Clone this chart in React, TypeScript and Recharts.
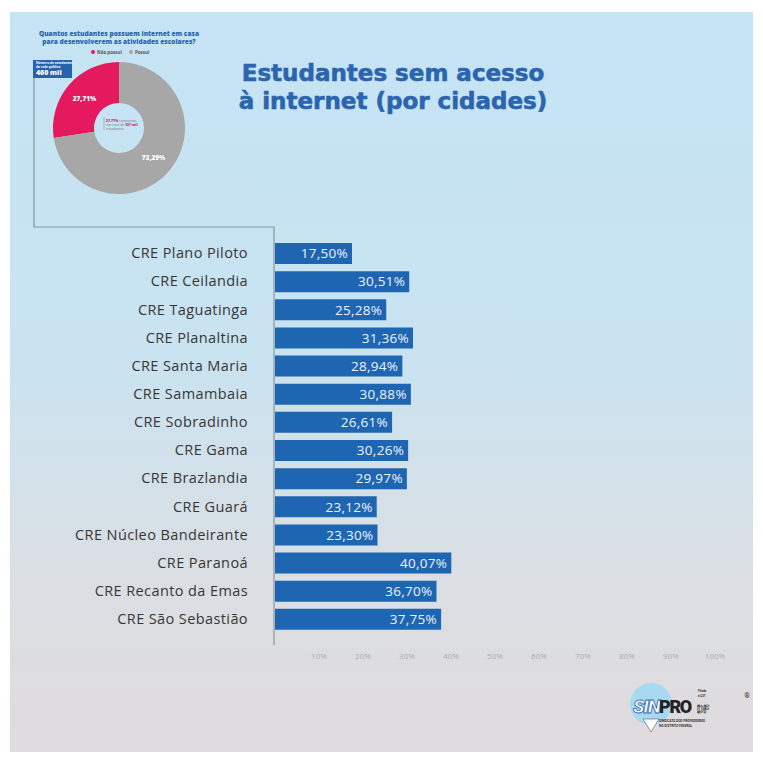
import { BarChart, Bar, XAxis, YAxis, LabelList, PieChart, Pie, Cell } from 'recharts'

const cities = [
  'CRE Plano Piloto',
  'CRE Ceilandia',
  'CRE Taguatinga',
  'CRE Planaltina',
  'CRE Santa Maria',
  'CRE Samambaia',
  'CRE Sobradinho',
  'CRE Gama',
  'CRE Brazlandia',
  'CRE Guará',
  'CRE Núcleo Bandeirante',
  'CRE Paranoá',
  'CRE Recanto da Emas',
  'CRE São Sebastião',
]
const semAcesso = [17.5, 30.51, 25.28, 31.36, 28.94, 30.88, 26.61, 30.26, 29.97, 23.12, 23.3, 40.07, 36.7, 37.75]
const xTicks = [10, 20, 30, 40, 50, 60, 70, 80, 90, 100]

const donutNames = ['Não possui', 'Possui']
const donutValues = [27.71, 73.29]
const donutColors = ['#e5195d', '#a7a7a7']

const FONT = '"Open Sans", Lato, sans-serif'
const BLUE = '#1f66b2'

const pct = (v: number) => v.toFixed(2).replace('.', ',') + '%'

const barData = cities.map((name, i) => ({ name, value: semAcesso[i] }))
const pieData = donutNames.map((name, i) => ({ name, value: donutValues[i] }))

const RAD = Math.PI / 180

function DonutLabel(props: any) {
  const { cx, cy, midAngle, innerRadius, outerRadius, value } = props
  const r = (innerRadius + outerRadius) / 2
  const x = cx + r * Math.cos(-midAngle * RAD)
  const y = cy + r * Math.sin(-midAngle * RAD)
  return (
    <text x={x} y={y} fill="#fff" fontSize={6.5} fontWeight={800} fontFamily={FONT} textAnchor="middle" dominantBaseline="central">
      {pct(value)}
    </text>
  )
}

export default function App() {
  return (
    <div style={{ position: 'absolute', left: 0, top: 0, width: 763, height: 760, background: '#fff' }}>
      <div
        style={{
          position: 'absolute',
          left: 10,
          top: 12,
          width: 743,
          height: 740,
          background: 'linear-gradient(to bottom, #c5e4f4 0%, #c9e3f1 45%, #dadfe4 75%, #e0dbde 100%)',
        }}
      />

      <div style={{ position: 'absolute', left: 0, top: 0 }}>
        <BarChart
          width={763}
          height={760}
          layout="vertical"
          data={barData}
          margin={{ top: 239, right: 48, bottom: 0, left: 0 }}
          barCategoryGap={7}
        >
          <XAxis
            type="number"
            domain={[0, 100]}
            ticks={xTicks}
            tickFormatter={(v: number) => `${v}%`}
            axisLine={false}
            tickLine={false}
            tickSize={0}
            tickMargin={20}
            height={127}
            tick={{ fontSize: 8, fill: '#a9adb1', fontFamily: FONT }}
          />
          <YAxis
            type="category"
            dataKey="name"
            width={275}
            axisLine={false}
            tickLine={false}
            tickSize={0}
            tickMargin={27}
            interval={0}
            tick={{ fontSize: 14.5, fill: '#363636', fontFamily: FONT, letterSpacing: 0.4 }}
          />
          <Bar dataKey="value" fill={BLUE} barSize={21} isAnimationActive={false}>
            <LabelList
              dataKey="value"
              position="insideRight"
              offset={4}
              formatter={(v: any) => pct(Number(v))}
              style={{ fill: '#eef3fa', fontSize: 13.5, fontFamily: FONT, letterSpacing: 0.3 }}
            />
          </Bar>
        </BarChart>
      </div>

      <div style={{ position: 'absolute', left: 49, top: 58 }}>
        <PieChart width={140} height={140} margin={{ top: 0, right: 0, bottom: 0, left: 0 }}>
          <Pie
            data={pieData}
            dataKey="value"
            cx={70}
            cy={70}
            innerRadius={25}
            outerRadius={66}
            startAngle={90}
            endAngle={450}
            stroke="none"
            labelLine={false}
            label={DonutLabel}
            isAnimationActive={false}
          >
            {pieData.map((_, i) => (
              <Cell key={`slice-${i}`} fill={donutColors[i]} />
            ))}
          </Pie>
        </PieChart>
      </div>

      <svg width={763} height={760} style={{ position: 'absolute', left: 0, top: 0, pointerEvents: 'none' }}>
        {/* connector from the box down to the bar axis */}
        <path d="M34,78 V227 H274 V645" fill="none" stroke="#8c949c" strokeWidth={1.2} />

        {/* donut heading + legend */}
        <g fontFamily={FONT} fontWeight={800} fill="#2b65b0" fontSize={6.6} textAnchor="middle">
          <text x={119} y={36}>Quantos estudantes possuem internet em casa</text>
          <text x={119} y={44}>para desenvolverem as atividades escolares?</text>
        </g>
        <g fontFamily={FONT} fontWeight={700} fontSize={4.5} fill="#555">
          <circle cx={93} cy={52} r={2} fill={donutColors[0]} />
          <text x={97} y={53.6}>{donutNames[0]}</text>
          <circle cx={131} cy={52} r={2} fill={donutColors[1]} />
          <text x={135} y={53.6}>{donutNames[1]}</text>
        </g>

        {/* box */}
        <rect x={33} y={60} width={39} height={18} fill="#2563ad" />
        <g fontFamily={FONT} fill="#fff">
          <text x={36} y={64} fontSize={3.2} fontWeight={700}>Número de estudantes</text>
          <text x={36} y={67.5} fontSize={3.2} fontWeight={700}>da rede pública</text>
          <text x={36} y={75} fontSize={7} fontWeight={800}>460 mil</text>
        </g>

        {/* donut centre note */}
        <line x1={104} y1={117} x2={104} y2={130} stroke="#8c949c" strokeWidth={0.6} />
        <g fontFamily={FONT} fontSize={3.4} fill="#777">
          <text x={106} y={122}>
            <tspan fill="#d0207a" fontWeight={800}>27,71%</tspan> representa
          </text>
          <text x={106} y={126}>
            um total de <tspan fill="#d0207a" fontWeight={800}>127 mil</tspan>
          </text>
          <text x={106} y={130}>estudantes</text>
        </g>

        {/* main title */}
        <g fontFamily='"DejaVu Sans", Lato, sans-serif' fontWeight={700} fill="#2b65b0" fontSize={23} textAnchor="middle" stroke="#2b65b0" strokeWidth={0.6}>
          <text x={393} y={81}>Estudantes sem acesso</text>
          <text x={393} y={109}>à internet (por cidades)</text>
        </g>

        {/* logo */}
        <circle cx={651} cy={704} r={21} fill="#a9d9f1" />
        <path d="M643,719 L651,732 L659,719 Z" fill="#fff" stroke="#555" strokeWidth={0.6} />
        <text x={633} y={713} fontFamily="Roboto, sans-serif" fontStyle="italic" fontWeight={900} fontSize={19} fill="#fff" stroke="#2b65b0" strokeWidth={0.8} letterSpacing={-1.2}>
          SIN
        </text>
        <text x={659} y={713} fontFamily="Roboto, sans-serif" fontWeight={900} fontSize={18} fill="#222" letterSpacing={-1.3}>
          PRO
        </text>
        <g fontFamily="Roboto, sans-serif" fontWeight={700} fill="#333">
          <text x={698} y={692} fontSize={2.8}>Filiado</text>
          <text x={698} y={697} fontSize={2.8}>à CUT</text>
          <text x={697} y={713} fontSize={10} fill="#ddd" stroke="#333" strokeWidth={0.6}>DF</text>
          <text x={659} y={722} fontSize={3.2}>SINDICATO DOS PROFESSORES</text>
          <text x={659} y={726.5} fontSize={3.2}>NO DISTRITO FEDERAL</text>
          <text x={747} y={698} fontSize={7} textAnchor="middle">®</text>
        </g>
      </svg>
    </div>
  )
}
